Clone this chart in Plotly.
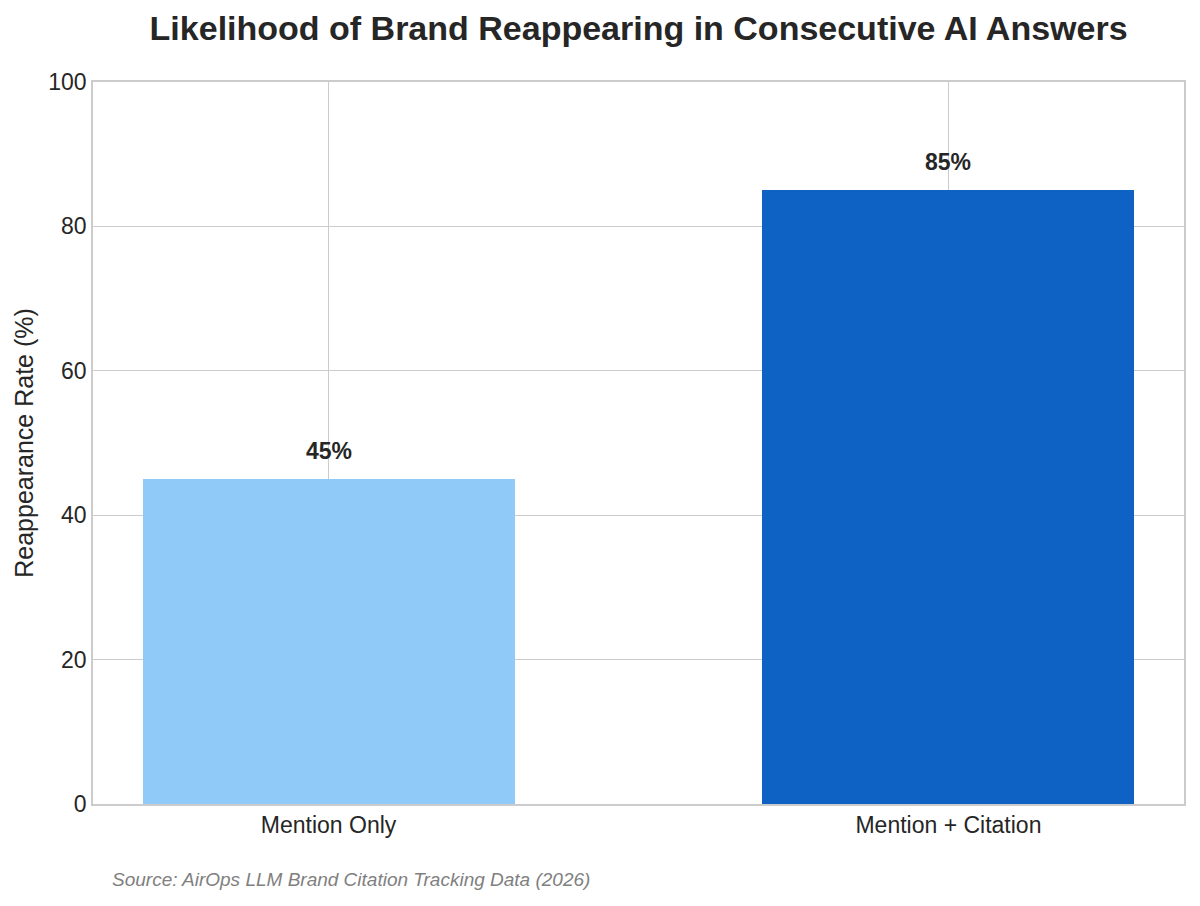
import plotly.graph_objects as go

categories = ['Mention Only', 'Mention + Citation']
rates = [45, 85]
bar_colors = ['#90CAF9', '#0D62C4']
labels = ['45%', '85%']

# the page body adds an 8px offset, margins account for it
fig = go.Figure()

fig.add_trace(go.Bar(
    x = [0, 1],
    y = rates,
    width = 0.6,
    marker = dict(color=bar_colors, line=dict(width=0)),
    showlegend = False
))

for i, lab in enumerate(labels):
    fig.add_annotation(
        x = i, y = rates[i],
        text = '<b>' + lab + '</b>',
        showarrow = False,
        yanchor = 'bottom',
        yshift = 13,
        font = dict(size=23, color='#262626')
    )

fig.update_layout(
    width = 1200,
    height = 906,
    margin = dict(l=85, r=24, t=74, b=110),
    paper_bgcolor = 'white',
    plot_bgcolor = 'white',
    font = dict(family='Liberation Sans', color='#262626', size=19),
    title = dict(
        text = '<b>Likelihood of Brand Reappearing in Consecutive AI Answers</b>',
        x = 0.5255, xanchor = 'center',
        y = 0.978, yanchor = 'middle',
        font = dict(size=34, color='#262626')
    ),
    bargap = 0,
)
fig.update_xaxes(
    tickvals = [0, 1],
    ticktext = categories,
    range = [-0.38, 1.38],
    showgrid = True,
    gridcolor = '#CCCCCF',
    gridwidth = 1.4,
    showline = True,
    linecolor = '#CCCCCF',
    linewidth = 1.6,
    mirror = True,
    ticks = '',
    zeroline = False,
    tickfont = dict(size=23)
)
fig.update_yaxes(
    range = [0, 100],
    tickvals = [0, 20, 40, 60, 80, 100],
    showgrid = True,
    gridcolor = '#CCCCCF',
    gridwidth = 1.4,
    showline = True,
    linecolor = '#CCCCCF',
    linewidth = 1.6,
    mirror = True,
    zeroline = False,
    ticks = '',
    tickfont = dict(size=23),
    title = dict(text='Reappearance Rate (%)', font=dict(size=25), standoff=7)
)
fig.add_annotation(
    text = '<i>Source: AirOps LLM Brand Citation Tracking Data (2026)</i>',
    xref = 'paper', yref = 'paper',
    x = 0.0155, y = -0.105,
    xanchor = 'left', yanchor = 'middle',
    showarrow = False,
    font = dict(size=19, color='#808080')
)

fig.write_html("out.html")
